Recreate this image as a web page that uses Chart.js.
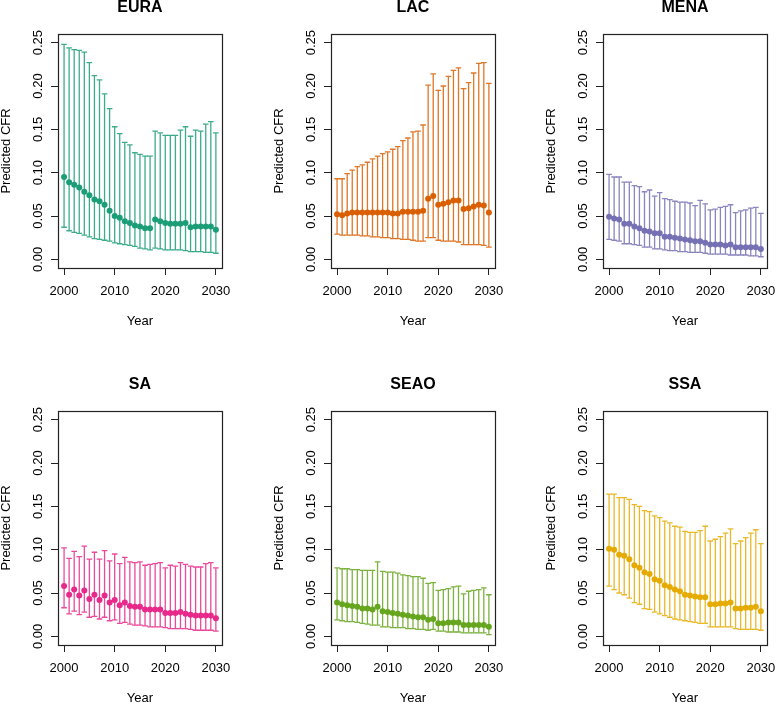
<!DOCTYPE html>
<html>
<head>
<meta charset="utf-8">
<title>Predicted CFR by region</title>
<script src="https://cdn.jsdelivr.net/npm/chart.js@4.4.0/dist/chart.umd.min.js"></script>
<style>
  html, body { margin: 0; padding: 0; background: #fff; overflow: hidden; }
  body { width: 778px; height: 703px; position: relative; }
  canvas { position: absolute; }
</style>
</head>
<body>
<canvas id="c0" width="240" height="328" style="left:0px;top:0px"></canvas>
<canvas id="c1" width="240" height="328" style="left:273px;top:0px"></canvas>
<canvas id="c2" width="240" height="328" style="left:545px;top:0px"></canvas>
<canvas id="c3" width="240" height="328" style="left:0px;top:377px"></canvas>
<canvas id="c4" width="240" height="328" style="left:273px;top:377px"></canvas>
<canvas id="c5" width="240" height="328" style="left:545px;top:377px"></canvas>
<script>
const years = [2000, 2001, 2002, 2003, 2004, 2005, 2006, 2007, 2008, 2009, 2010,
  2011, 2012, 2013, 2014, 2015, 2016, 2017, 2018, 2019, 2020,
  2021, 2022, 2023, 2024, 2025, 2026, 2027, 2028, 2029, 2030];
const xTicks = [2000, 2010, 2020, 2030];
const yTicks = [0, 0.05, 0.10, 0.15, 0.20, 0.25];
const regions = ['EURA', 'LAC', 'MENA', 'SA', 'SEAO', 'SSA'];
const colors = ['#1B9E77', '#D95F02', '#7570B3', '#E7298A', '#66A61E', '#E6AB02'];
const barColors = ['rgba(27,158,119,0.85)', 'rgba(217,95,2,0.85)', 'rgba(117,112,179,0.85)',
  'rgba(231,41,138,0.85)', 'rgba(102,166,30,0.85)', 'rgba(230,171,2,0.85)'];

// EURA
const euraMean = [0.095, 0.089, 0.086, 0.083, 0.078, 0.074, 0.069, 0.067, 0.063, 0.056, 0.050,
  0.048, 0.044, 0.042, 0.039, 0.038, 0.036, 0.036, 0.046, 0.044, 0.042,
  0.041, 0.041, 0.041, 0.042, 0.037, 0.038, 0.038, 0.038, 0.038, 0.034];
const euraUpper = [0.248, 0.244, 0.242, 0.241, 0.239, 0.227, 0.212, 0.207, 0.191, 0.174, 0.153,
  0.145, 0.135, 0.132, 0.123, 0.121, 0.119, 0.119, 0.148, 0.146, 0.143,
  0.143, 0.143, 0.149, 0.153, 0.142, 0.149, 0.148, 0.156, 0.159, 0.146];
const euraLower = [0.037, 0.033, 0.031, 0.030, 0.028, 0.026, 0.024, 0.023, 0.022, 0.021, 0.019,
  0.018, 0.017, 0.016, 0.015, 0.013, 0.012, 0.011, 0.013, 0.012, 0.011,
  0.011, 0.011, 0.011, 0.010, 0.009, 0.009, 0.009, 0.008, 0.008, 0.007];

// LAC
const lacMean = [0.052, 0.051, 0.053, 0.054, 0.054, 0.054, 0.054, 0.054, 0.054, 0.054, 0.054,
  0.053, 0.053, 0.055, 0.055, 0.055, 0.055, 0.056, 0.070, 0.073, 0.063,
  0.064, 0.066, 0.068, 0.068, 0.058, 0.059, 0.061, 0.063, 0.062, 0.054];
const lacUpper = [0.093, 0.093, 0.099, 0.103, 0.107, 0.109, 0.112, 0.116, 0.119, 0.122, 0.124,
  0.127, 0.130, 0.137, 0.140, 0.147, 0.148, 0.155, 0.201, 0.214, 0.195,
  0.200, 0.211, 0.218, 0.221, 0.197, 0.204, 0.215, 0.226, 0.227, 0.203];
const lacLower = [0.029, 0.028, 0.028, 0.028, 0.028, 0.027, 0.027, 0.026, 0.026, 0.025, 0.025,
  0.024, 0.024, 0.023, 0.023, 0.022, 0.021, 0.021, 0.025, 0.025, 0.022,
  0.021, 0.021, 0.021, 0.020, 0.017, 0.017, 0.017, 0.017, 0.016, 0.014];

// MENA
const menaMean = [0.049, 0.047, 0.046, 0.041, 0.041, 0.038, 0.036, 0.033, 0.032, 0.030, 0.030,
  0.026, 0.026, 0.025, 0.024, 0.023, 0.022, 0.021, 0.021, 0.019, 0.017,
  0.017, 0.017, 0.016, 0.017, 0.014, 0.014, 0.014, 0.014, 0.014, 0.012];
const menaUpper = [0.098, 0.095, 0.095, 0.089, 0.089, 0.085, 0.084, 0.078, 0.080, 0.073, 0.077,
  0.070, 0.069, 0.067, 0.066, 0.066, 0.065, 0.062, 0.068, 0.064, 0.057,
  0.058, 0.060, 0.061, 0.063, 0.054, 0.056, 0.057, 0.059, 0.060, 0.053];
const menaLower = [0.023, 0.022, 0.021, 0.018, 0.018, 0.017, 0.016, 0.014, 0.014, 0.012, 0.012,
  0.011, 0.010, 0.010, 0.009, 0.009, 0.008, 0.008, 0.008, 0.007, 0.006,
  0.006, 0.006, 0.006, 0.005, 0.005, 0.005, 0.005, 0.004, 0.004, 0.003];

// SA
const saMean = [0.058, 0.048, 0.054, 0.047, 0.053, 0.043, 0.048, 0.042, 0.047, 0.039, 0.042,
  0.036, 0.039, 0.035, 0.034, 0.034, 0.031, 0.031, 0.031, 0.031, 0.027,
  0.027, 0.027, 0.028, 0.026, 0.025, 0.024, 0.024, 0.024, 0.024, 0.021];
const saUpper = [0.102, 0.090, 0.098, 0.092, 0.104, 0.089, 0.097, 0.089, 0.099, 0.087, 0.095,
  0.084, 0.091, 0.086, 0.085, 0.086, 0.082, 0.083, 0.084, 0.085, 0.079,
  0.082, 0.081, 0.085, 0.083, 0.081, 0.080, 0.080, 0.084, 0.085, 0.079];
const saLower = [0.033, 0.026, 0.029, 0.025, 0.028, 0.022, 0.023, 0.020, 0.022, 0.018, 0.019,
  0.015, 0.016, 0.014, 0.013, 0.013, 0.012, 0.011, 0.011, 0.011, 0.010,
  0.009, 0.009, 0.009, 0.009, 0.008, 0.007, 0.007, 0.007, 0.007, 0.006];

// SEAO
const seaoMean = [0.039, 0.037, 0.036, 0.035, 0.034, 0.032, 0.032, 0.031, 0.034, 0.029, 0.028,
  0.027, 0.026, 0.025, 0.024, 0.023, 0.022, 0.022, 0.019, 0.020, 0.015,
  0.015, 0.016, 0.016, 0.016, 0.013, 0.013, 0.013, 0.013, 0.013, 0.011];
const seaoUpper = [0.079, 0.078, 0.078, 0.077, 0.077, 0.076, 0.076, 0.076, 0.086, 0.075, 0.074,
  0.074, 0.073, 0.071, 0.070, 0.069, 0.069, 0.067, 0.061, 0.062, 0.053,
  0.054, 0.055, 0.057, 0.058, 0.049, 0.052, 0.053, 0.054, 0.056, 0.048];
const seaoLower = [0.019, 0.018, 0.017, 0.017, 0.016, 0.015, 0.014, 0.013, 0.013, 0.011, 0.011,
  0.010, 0.010, 0.010, 0.009, 0.009, 0.008, 0.008, 0.007, 0.008, 0.006,
  0.006, 0.005, 0.005, 0.005, 0.004, 0.004, 0.004, 0.004, 0.004, 0.002];

// SSA
const ssaMean = [0.101, 0.100, 0.094, 0.093, 0.089, 0.082, 0.079, 0.074, 0.072, 0.066, 0.064,
  0.059, 0.057, 0.054, 0.052, 0.048, 0.047, 0.046, 0.045, 0.045, 0.037,
  0.037, 0.038, 0.038, 0.039, 0.032, 0.032, 0.033, 0.033, 0.034, 0.029];
const ssaUpper = [0.164, 0.164, 0.160, 0.160, 0.158, 0.152, 0.150, 0.145, 0.144, 0.139, 0.137,
  0.133, 0.131, 0.127, 0.126, 0.121, 0.120, 0.120, 0.122, 0.127, 0.110,
  0.112, 0.115, 0.119, 0.124, 0.107, 0.110, 0.114, 0.119, 0.123, 0.107];
const ssaLower = [0.058, 0.054, 0.050, 0.048, 0.044, 0.039, 0.037, 0.032, 0.031, 0.028, 0.026,
  0.024, 0.022, 0.020, 0.019, 0.018, 0.017, 0.016, 0.015, 0.015, 0.011,
  0.011, 0.011, 0.011, 0.011, 0.009, 0.008, 0.008, 0.008, 0.008, 0.007];

const means = [euraMean, lacMean, menaMean, saMean, seaoMean, ssaMean];
const uppers = [euraUpper, lacUpper, menaUpper, saUpper, seaoUpper, ssaUpper];
const lowers = [euraLower, lacLower, menaLower, saLower, seaoLower, ssaLower];

const FONT = '"Liberation Sans", Arial, Helvetica, sans-serif';
const CANVAS_H = 328;

// vertical interval + caps, drawn before the points
function makeErrorBars(lower, upper, color) {
  return {
    id: 'errorBars',
    beforeDatasetsDraw(chart) {
      const { ctx, scales: { x, y } } = chart;
      ctx.save();
      ctx.strokeStyle = color;
      ctx.lineWidth = 1.3;
      lower.forEach((lo, i) => {
        const px = x.getPixelForValue(years[i]);
        const yl = y.getPixelForValue(lo);
        const yh = y.getPixelForValue(upper[i]);
        ctx.beginPath();
        ctx.moveTo(px, yl); ctx.lineTo(px, yh);
        ctx.moveTo(px - 2.8, yl); ctx.lineTo(px + 2.8, yl);
        ctx.moveTo(px - 2.8, yh); ctx.lineTo(px + 2.8, yh);
        ctx.stroke();
      });
      ctx.restore();
    }
  };
}

// box around the plot area and rotated y tick labels (R style)
const frame = {
  id: 'frame',
  afterDraw(chart) {
    const { ctx, chartArea: a, scales: { y } } = chart;
    ctx.save();
    ctx.strokeStyle = '#222';
    ctx.lineWidth = 1.2;
    ctx.strokeRect(Math.round(a.left) + 0.5, Math.round(a.top) + 0.5,
      Math.round(a.width), Math.round(a.height));
    ctx.fillStyle = '#000';
    ctx.font = '13px ' + FONT;
    ctx.textAlign = 'center';
    ctx.textBaseline = 'middle';
    y.ticks.forEach(t => {
      ctx.save();
      ctx.translate(a.left - 20, y.getPixelForValue(t.value));
      ctx.rotate(-Math.PI / 2);
      ctx.fillText(t.label, 0, 0);
      ctx.restore();
    });
    ctx.restore();
  }
};

function drawPanel(k) {
  const ctx = document.getElementById('c' + k).getContext('2d');
  return new Chart(ctx, {
    type: 'scatter',
    data: {
      datasets: [{
        data: years.map((yr, i) => ({ x: yr, y: means[k][i] })),
        backgroundColor: colors[k],
        borderWidth: 0,
        pointRadius: 3,
        pointHoverRadius: 3
      }]
    },
    options: {
      responsive: false,
      animation: false,
      events: [],
      layout: { padding: { left: 0, top: 0, right: 14, bottom: 0 } },
      plugins: {
        legend: { display: false },
        tooltip: { enabled: false },
        title: {
          display: true,
          text: regions[k],
          fullSize: false,
          color: '#000',
          font: { family: FONT, size: 16, weight: 'bold', lineHeight: 1 },
          padding: { top: 0, bottom: 18 }
        }
      },
      scales: {
        x: {
          type: 'linear',
          min: 1998.8,
          max: 2031.2,
          afterBuildTicks: s => { s.ticks = xTicks.map(v => ({ value: v })); },
          afterFit: s => { s.height = CANVAS_H - 268; },
          grid: { drawOnChartArea: false, drawTicks: true, tickLength: 7, color: '#222' },
          border: { display: false },
          ticks: {
            color: '#000',
            padding: 9,
            maxRotation: 0,
            font: { family: FONT, size: 13 },
            callback: v => String(v)
          },
          title: {
            display: true,
            text: 'Year',
            color: '#000',
            font: { family: FONT, size: 13, lineHeight: 1 },
            padding: 0
          }
        },
        y: {
          type: 'linear',
          min: -0.01,
          max: 0.26,
          afterBuildTicks: s => { s.ticks = yTicks.map(v => ({ value: v })); },
          afterFit: s => { s.width = 58; },
          grid: { drawOnChartArea: false, drawTicks: true, tickLength: 7, color: '#222' },
          border: { display: false },
          ticks: { display: false, callback: v => v.toFixed(2) },
          title: {
            display: true,
            text: 'Predicted CFR',
            color: '#000',
            font: { family: FONT, size: 13, lineHeight: 1 },
            padding: 0
          }
        }
      }
    },
    plugins: [makeErrorBars(lowers[k], uppers[k], barColors[k]), frame]
  });
}

regions.forEach((_, k) => drawPanel(k));
</script>
</body>
</html>
